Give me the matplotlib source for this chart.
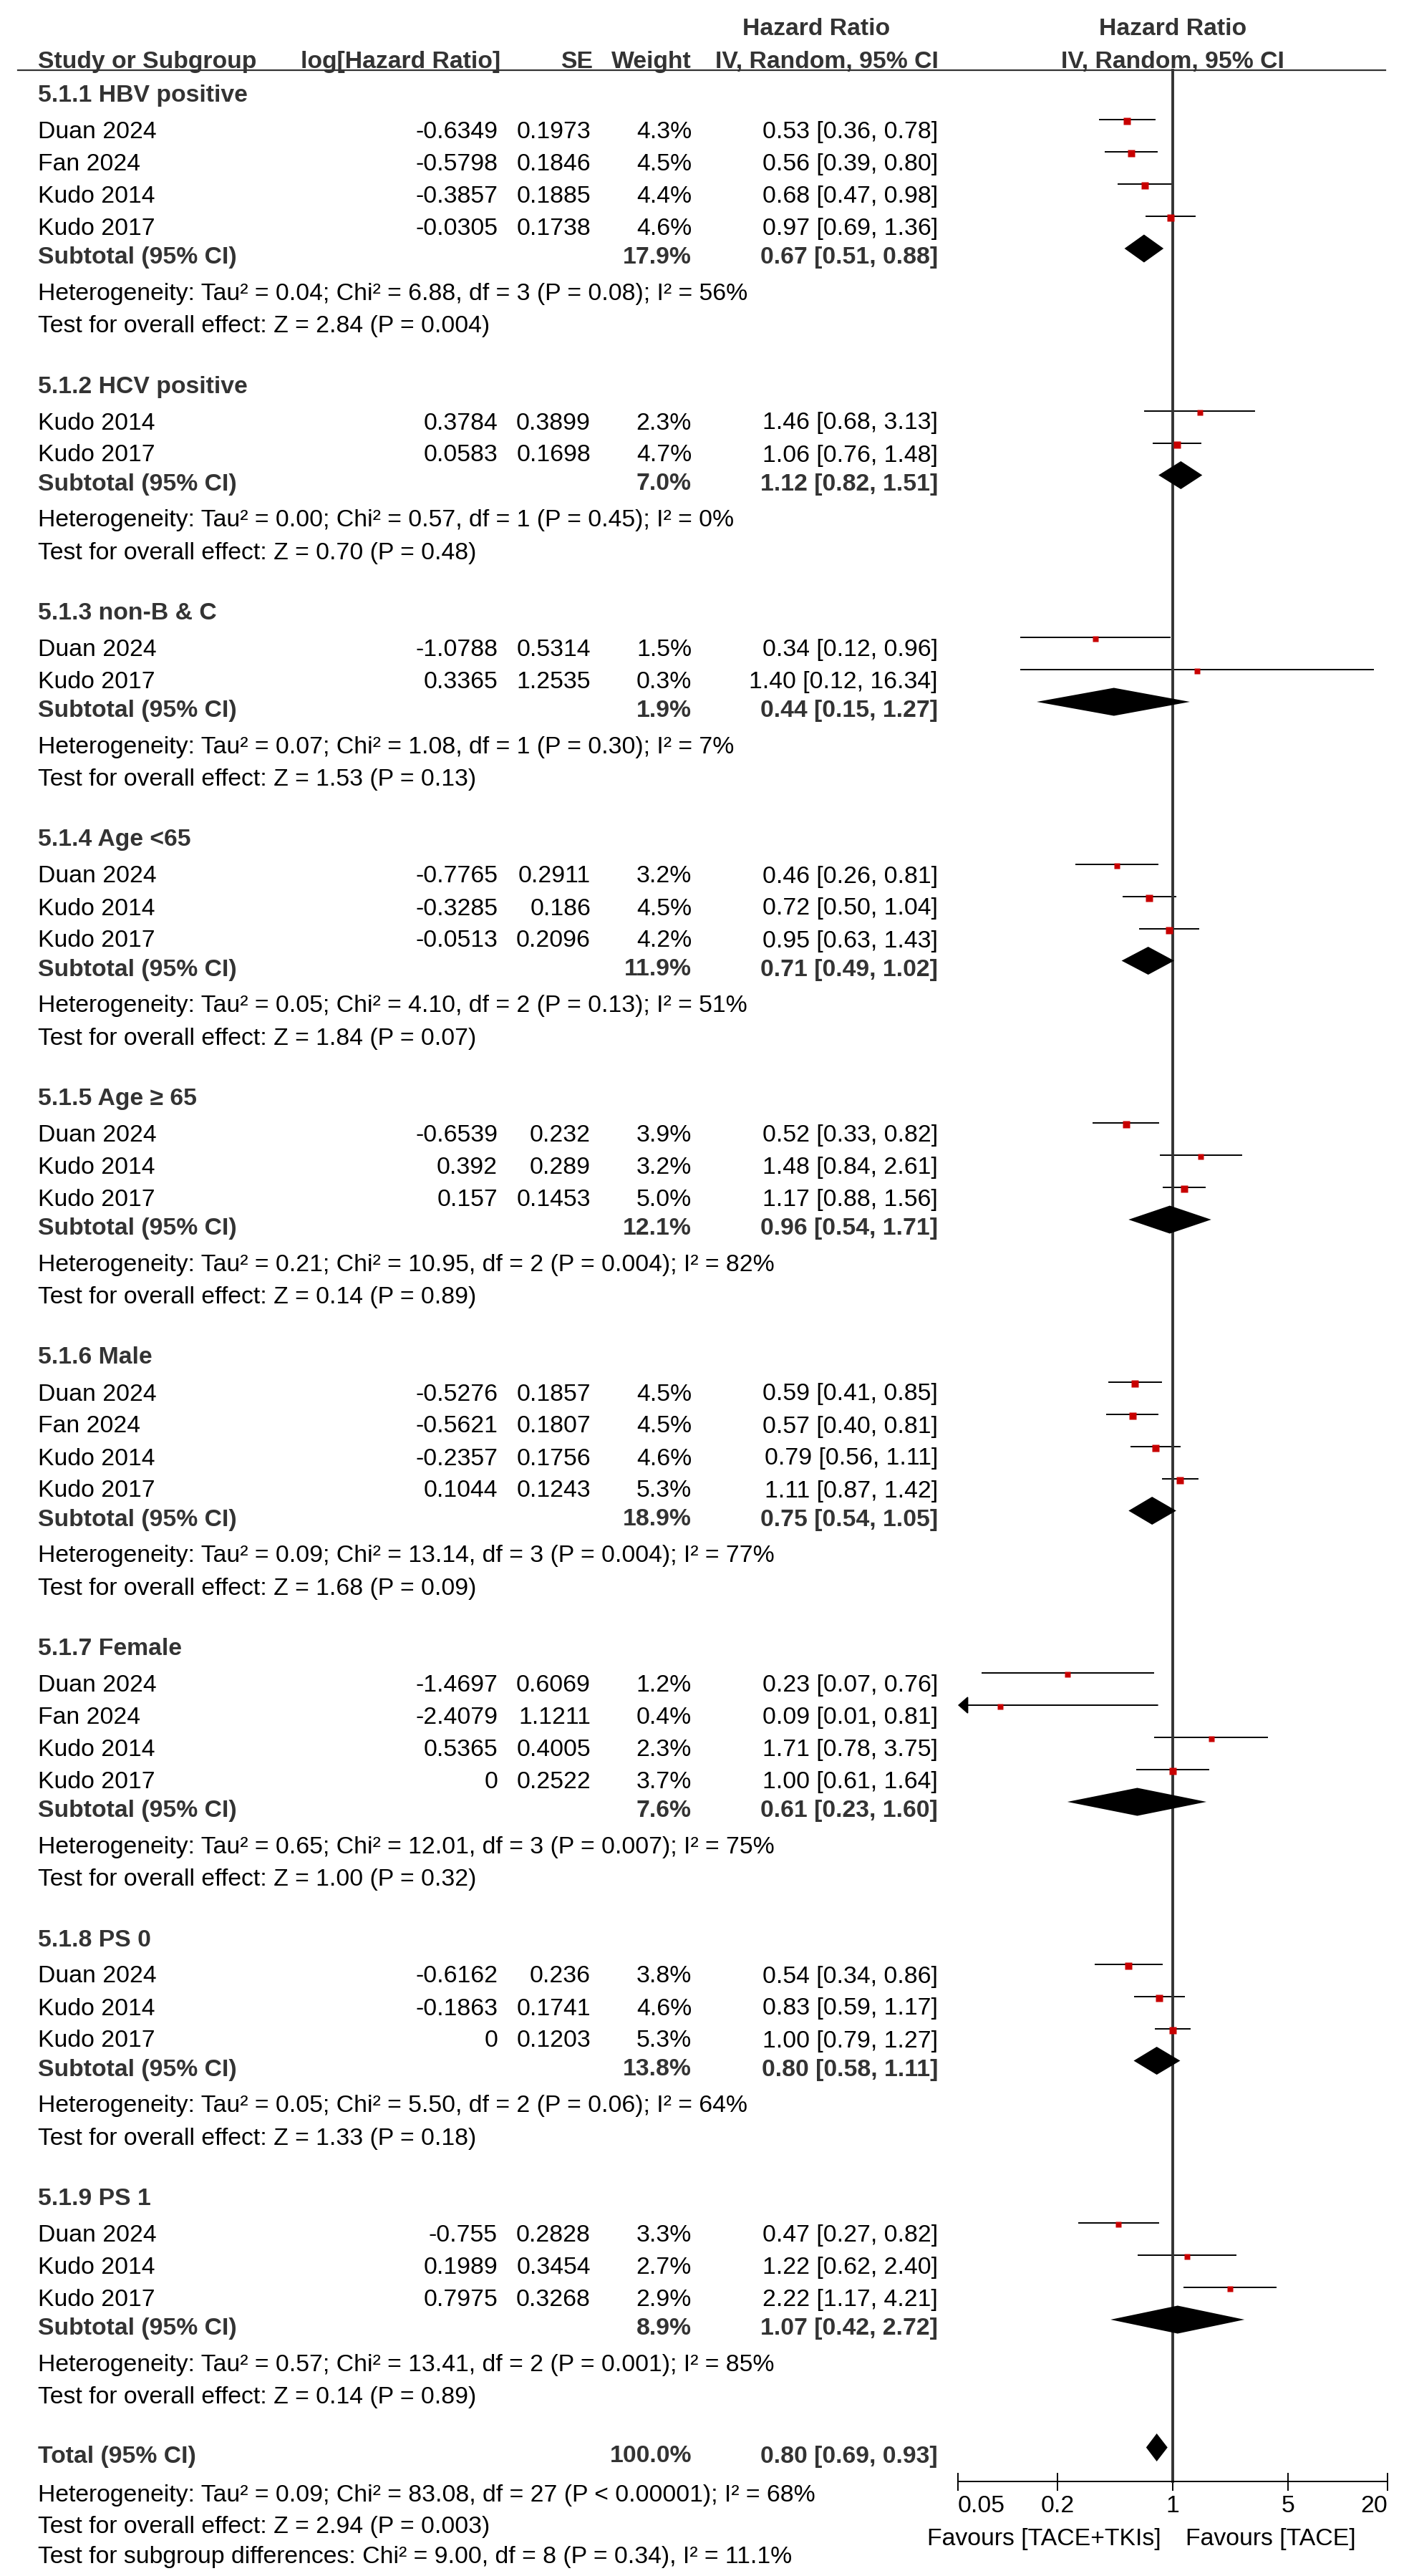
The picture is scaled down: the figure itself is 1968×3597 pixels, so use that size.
import matplotlib.pyplot as plt
from matplotlib.ticker import NullLocator

plt.rcParams['font.family'] = ['Liberation Sans', 'DejaVu Sans']

# subgroups
group_titles = ["5.1.1 HBV positive", "5.1.2 HCV positive", "5.1.3 non-B & C",
                "5.1.4 Age <65", "5.1.5 Age \u2265 65", "5.1.6 Male",
                "5.1.7 Female", "5.1.8 PS 0", "5.1.9 PS 1"]
sub_weight = [17.9, 7.0, 1.9, 11.9, 12.1, 18.9, 7.6, 13.8, 8.9]
sub_hr = [0.67, 1.12, 0.44, 0.71, 0.96, 0.75, 0.61, 0.80, 1.07]
sub_lo = [0.51, 0.82, 0.15, 0.49, 0.54, 0.54, 0.23, 0.58, 0.42]
sub_hi = [0.88, 1.51, 1.27, 1.02, 1.71, 1.05, 1.60, 1.11, 2.72]
sub_het = [
    "Heterogeneity: Tau\u00b2 = 0.04; Chi\u00b2 = 6.88, df = 3 (P = 0.08); I\u00b2 = 56%",
    "Heterogeneity: Tau\u00b2 = 0.00; Chi\u00b2 = 0.57, df = 1 (P = 0.45); I\u00b2 = 0%",
    "Heterogeneity: Tau\u00b2 = 0.07; Chi\u00b2 = 1.08, df = 1 (P = 0.30); I\u00b2 = 7%",
    "Heterogeneity: Tau\u00b2 = 0.05; Chi\u00b2 = 4.10, df = 2 (P = 0.13); I\u00b2 = 51%",
    "Heterogeneity: Tau\u00b2 = 0.21; Chi\u00b2 = 10.95, df = 2 (P = 0.004); I\u00b2 = 82%",
    "Heterogeneity: Tau\u00b2 = 0.09; Chi\u00b2 = 13.14, df = 3 (P = 0.004); I\u00b2 = 77%",
    "Heterogeneity: Tau\u00b2 = 0.65; Chi\u00b2 = 12.01, df = 3 (P = 0.007); I\u00b2 = 75%",
    "Heterogeneity: Tau\u00b2 = 0.05; Chi\u00b2 = 5.50, df = 2 (P = 0.06); I\u00b2 = 64%",
    "Heterogeneity: Tau\u00b2 = 0.57; Chi\u00b2 = 13.41, df = 2 (P = 0.001); I\u00b2 = 85%",
]
sub_z = ["Z = 2.84 (P = 0.004)", "Z = 0.70 (P = 0.48)", "Z = 1.53 (P = 0.13)",
         "Z = 1.84 (P = 0.07)", "Z = 0.14 (P = 0.89)", "Z = 1.68 (P = 0.09)",
         "Z = 1.00 (P = 0.32)", "Z = 1.33 (P = 0.18)", "Z = 0.14 (P = 0.89)"]

# studies
study_group = [0, 0, 0, 0, 1, 1, 2, 2, 3, 3, 3, 4, 4, 4,
               5, 5, 5, 5, 6, 6, 6, 6, 7, 7, 7, 8, 8, 8]
study_name = ["Duan 2024", "Fan 2024", "Kudo 2014", "Kudo 2017",
              "Kudo 2014", "Kudo 2017",
              "Duan 2024", "Kudo 2017",
              "Duan 2024", "Kudo 2014", "Kudo 2017",
              "Duan 2024", "Kudo 2014", "Kudo 2017",
              "Duan 2024", "Fan 2024", "Kudo 2014", "Kudo 2017",
              "Duan 2024", "Fan 2024", "Kudo 2014", "Kudo 2017",
              "Duan 2024", "Kudo 2014", "Kudo 2017",
              "Duan 2024", "Kudo 2014", "Kudo 2017"]
log_hr = [-0.6349, -0.5798, -0.3857, -0.0305,
          0.3784, 0.0583,
          -1.0788, 0.3365,
          -0.7765, -0.3285, -0.0513,
          -0.6539, 0.392, 0.157,
          -0.5276, -0.5621, -0.2357, 0.1044,
          -1.4697, -2.4079, 0.5365, 0,
          -0.6162, -0.1863, 0,
          -0.755, 0.1989, 0.7975]
se = [0.1973, 0.1846, 0.1885, 0.1738,
      0.3899, 0.1698,
      0.5314, 1.2535,
      0.2911, 0.186, 0.2096,
      0.232, 0.289, 0.1453,
      0.1857, 0.1807, 0.1756, 0.1243,
      0.6069, 1.1211, 0.4005, 0.2522,
      0.236, 0.1741, 0.1203,
      0.2828, 0.3454, 0.3268]
weight = [4.3, 4.5, 4.4, 4.6,
          2.3, 4.7,
          1.5, 0.3,
          3.2, 4.5, 4.2,
          3.9, 3.2, 5.0,
          4.5, 4.5, 4.6, 5.3,
          1.2, 0.4, 2.3, 3.7,
          3.8, 4.6, 5.3,
          3.3, 2.7, 2.9]
hr = [0.53, 0.56, 0.68, 0.97, 1.46, 1.06, 0.34, 1.40, 0.46, 0.72, 0.95,
      0.52, 1.48, 1.17, 0.59, 0.57, 0.79, 1.11, 0.23, 0.09, 1.71, 1.00,
      0.54, 0.83, 1.00, 0.47, 1.22, 2.22]
hr_lo = [0.36, 0.39, 0.47, 0.69, 0.68, 0.76, 0.12, 0.12, 0.26, 0.50, 0.63,
         0.33, 0.84, 0.88, 0.41, 0.40, 0.56, 0.87, 0.07, 0.01, 0.78, 0.61,
         0.34, 0.59, 0.79, 0.27, 0.62, 1.17]
hr_hi = [0.78, 0.80, 0.98, 1.36, 3.13, 1.48, 0.96, 16.34, 0.81, 1.04, 1.43,
         0.82, 2.61, 1.56, 0.85, 0.81, 1.11, 1.42, 0.76, 0.81, 3.75, 1.64,
         0.86, 1.17, 1.27, 0.82, 2.40, 4.21]

# overall
total_weight = 100.0
total_hr, total_lo, total_hi = 0.80, 0.69, 0.93
total_het = ("Heterogeneity: Tau\u00b2 = 0.09; Chi\u00b2 = 83.08, df = 27 "
             "(P < 0.00001); I\u00b2 = 68%")
total_z = "Test for overall effect: Z = 2.94 (P = 0.003)"
subgroup_test = ("Test for subgroup differences: Chi\u00b2 = 9.00, df = 8 "
                 "(P = 0.34), I\u00b2 = 11.1%")

axis_ticks = [0.05, 0.2, 1, 5, 20]
label_left = "Favours [TACE+TKIs]"
label_right = "Favours [TACE]"

# layout (pixels)
W, H = 1968, 3597
FS = 24.3
GREY = '#333333'
RED = '#C80000'
X_STUDY, X_LOG, X_SE, X_W, X_CI = 53, 695, 825, 966, 1310
X0, X1 = 1338, 1938
Y_AXIS = 3465

fig = plt.figure(figsize=(W / 100, H / 100), dpi=100)
ax = fig.add_axes([0, 0, 1, 1])
ax.set_xlim(0, W)
ax.set_ylim(H, 0)
ax.axis('off')

axf = fig.add_axes([X0 / W, 0, (X1 - X0) / W, 1])
axf.set_xscale('log')
axf.set_xlim(0.05, 20)
axf.set_ylim(H, 0)
axf.patch.set_visible(False)


def txt(x, y, s, ha='left', bold=False, target=None):
    (target or ax).text(x, y + 12, s, ha=ha, va='baseline', fontsize=FS,
                        fontweight='bold' if bold else 'normal',
                        color=GREY if bold else 'black')


def ci(h, l, u):
    return f"{h:.2f} [{l:.2f}, {u:.2f}]"


def diamond(y, h, l, u):
    dy = y - 9
    axf.fill([l, h, u, h], [dy, dy - 19.5, dy, dy + 19.5],
             color='black', lw=0, zorder=4)


# header
txt(1140, 37, "Hazard Ratio", 'center', True)
txt(1, 37, "Hazard Ratio", 'center', True, target=axf)
txt(X_STUDY, 83, "Study or Subgroup", bold=True)
txt(699, 83, "log[Hazard Ratio]", 'right', True)
txt(828, 83, "SE", 'right', True)
txt(X_W, 83, "Weight", 'right', True)
txt(1311, 83, "IV, Random, 95% CI", 'right', True)
txt(1, 83, "IV, Random, 95% CI", 'center', True, target=axf)
ax.plot([25, 1935], [98, 98], color=GREY, lw=1.6)

y = 130
for g, title in enumerate(group_titles):
    txt(X_STUDY, y, title, bold=True)
    idx = [i for i in range(len(study_name)) if study_group[i] == g]
    y += 51
    for k, i in enumerate(idx):
        if k:
            y += 45
        txt(X_STUDY, y, study_name[i])
        txt(X_LOG, y, f"{log_hr[i]:g}", 'right')
        txt(X_SE, y, f"{se[i]:g}", 'right')
        txt(X_W, y, f"{weight[i]:.1f}%", 'right')
        txt(X_CI, y, ci(hr[i], hr_lo[i], hr_hi[i]), 'right')
        ly = y - 14
        if hr_lo[i] < 0.05:
            axf.annotate('', xy=(0.05, ly), xytext=(hr_hi[i], ly),
                         arrowprops=dict(arrowstyle='-|>,head_length=0.43,head_width=0.38',
                                         mutation_scale=20, color='black', lw=1.4,
                                         shrinkA=0, shrinkB=0))
        else:
            axf.plot([hr_lo[i], hr_hi[i]], [ly, ly], color='black', lw=1.4)
        side = (7 + 0.6 * weight[i]) * 0.72
        axf.plot(hr[i], ly + 2, marker='s', ms=side, color=RED, mec='none', zorder=3)
    y += 40
    txt(X_STUDY, y, "Subtotal (95% CI)", bold=True)
    txt(X_W, y, f"{sub_weight[g]:.1f}%", 'right', True)
    txt(X_CI, y, ci(sub_hr[g], sub_lo[g], sub_hi[g]), 'right', True)
    diamond(y, sub_hr[g], sub_lo[g], sub_hi[g])
    y += 51
    txt(X_STUDY, y, sub_het[g])
    y += 45
    txt(X_STUDY, y, "Test for overall effect: " + sub_z[g])
    y += 84.5

y -= 2
txt(X_STUDY, y, "Total (95% CI)", bold=True)
txt(X_W, y, f"{total_weight:.1f}%", 'right', True)
txt(X_CI, y, ci(total_hr, total_lo, total_hi), 'right', True)
diamond(y, total_hr, total_lo, total_hi)
txt(X_STUDY, y + 54, total_het)
txt(X_STUDY, y + 99, total_z)
txt(X_STUDY, y + 140, subgroup_test)

# line of no effect and axis
axf.plot([1, 1], [98, Y_AXIS], color=GREY, lw=2.8, zorder=2)
for s in ['left', 'top', 'right']:
    axf.spines[s].set_visible(False)
axf.spines['bottom'].set_position(('data', Y_AXIS))
axf.spines['bottom'].set_linewidth(1.4)
axf.set_yticks([])
axf.set_xticks(axis_ticks)
axf.set_xticklabels([f"{t:g}" for t in axis_ticks])
axf.xaxis.set_minor_locator(NullLocator())
axf.tick_params(axis='x', direction='inout', length=18, width=1.4, pad=4.5, labelsize=FS)
labels = axf.get_xticklabels()
labels[0].set_ha('left')
labels[-1].set_ha('right')
txt(0.85, 3542, label_left, 'right', target=axf)
txt(1.2, 3542, label_right, 'left', target=axf)

fig.savefig('out.png', dpi=100)
